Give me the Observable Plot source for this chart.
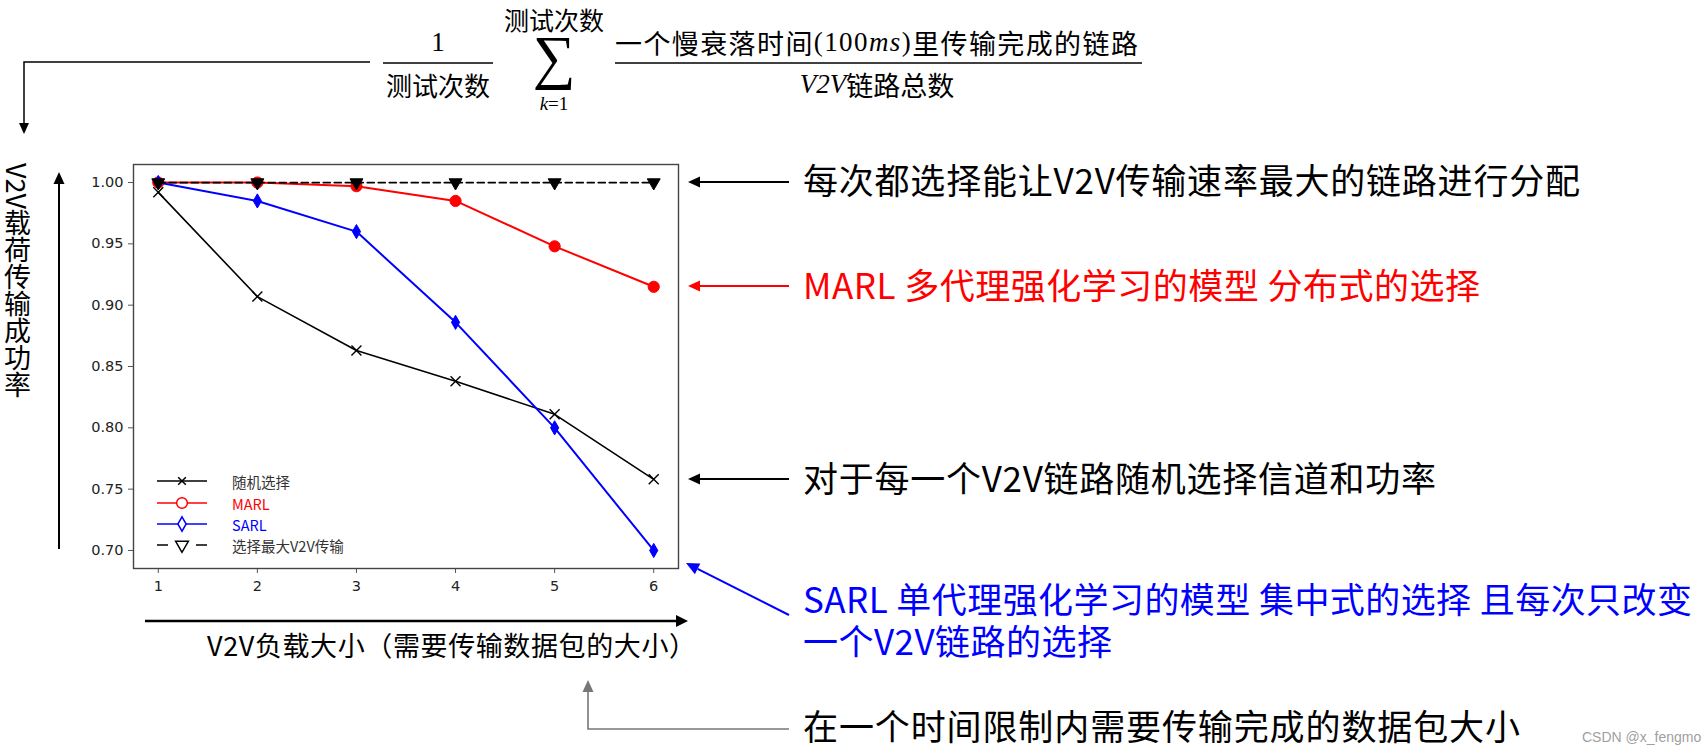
<!DOCTYPE html>
<html>
<head>
<meta charset="utf-8">
<script src="https://cdn.jsdelivr.net/npm/d3@7"></script>
<script src="https://cdn.jsdelivr.net/npm/@observablehq/plot@0.6"></script>
<style>
  html, body { margin: 0; padding: 0; background: #fff; }
  #wrap { position: relative; width: 1706px; height: 753px; }
  #chart svg { display: block; }
  #ylabel {
    position: absolute; left: 4px; top: 163px;
    writing-mode: vertical-rl; text-orientation: mixed;
    font-family: 'Noto Sans CJK SC', 'Noto Sans', sans-serif;
    font-size: 27px; line-height: 27px; color: #000; white-space: nowrap;
  }
</style>
</head>
<body>
<div id="wrap">
  <div id="chart"></div>
  <div id="ylabel"></div>
</div>
<script>
// ---------- data ----------
const loads = [1, 2, 3, 4, 5, 6];
const randomSel = [0.992, 0.907, 0.863, 0.838, 0.811, 0.758];
const marl      = [1.000, 1.000, 0.997, 0.985, 0.948, 0.915];
const sarl      = [1.000, 0.985, 0.960, 0.886, 0.800, 0.700];
const maxV2V    = [1.000, 1.000, 1.000, 1.000, 1.000, 1.000];
const seriesNames = ["随机选择", "MARL", "SARL", "选择最大V2V传输"];
const yTicks = [0.70, 0.75, 0.80, 0.85, 0.90, 0.95, 1.00];
const xTicks = [1, 2, 3, 4, 5, 6];
const yLabel = "V2V载荷传输成功率";
const xLabel = "V2V负载大小（需要传输数据包的大小）";

const toRows = (vals, name) => loads.map((x, i) => ({series: name, x, y: vals[i]}));
const rRandom = toRows(randomSel, seriesNames[0]);
const rMarl   = toRows(marl, seriesNames[1]);
const rSarl   = toRows(sarl, seriesNames[2]);
const rMax    = toRows(maxV2V, seriesNames[3]);

const W = 1706, H = 753;
const fL = 133, fR = 678, fT = 164, fB = 568;

const CJK = "'Noto Sans CJK SC', 'Noto Sans', sans-serif";
const SERIF = "'Liberation Serif', 'DejaVu Serif', serif";

const chart = Plot.plot({
  width: W, height: H,
  marginLeft: fL, marginRight: W - fR, marginTop: fT, marginBottom: H - fB,
  style: {fontFamily: "'DejaVu Sans', sans-serif", fontSize: "14.5px", color: "#222", background: "#fff"},
  x: {domain: [0.75, 6.25]},
  y: {domain: [0.6853, 1.0147]},
  marks: [
    Plot.axisX({ticks: xTicks, tickFormat: d => String(d), tickSize: 5, tickPadding: 7, stroke: "#555", fill: "#222", label: null}),
    Plot.axisY({ticks: yTicks, tickFormat: d3.format(".2f"), tickSize: 5, tickPadding: 5, stroke: "#555", fill: "#222", label: null}),
    Plot.line(rRandom, {x: "x", y: "y", stroke: "#000", strokeWidth: 1.6}),
    Plot.dot(rRandom, {x: "x", y: "y", symbol: "times", r: 4.6, stroke: "#000", strokeWidth: 1.4}),
    Plot.line(rMarl, {x: "x", y: "y", stroke: "#ff0000", strokeWidth: 2}),
    Plot.dot(rMarl, {x: "x", y: "y", symbol: "circle", r: 5.6, fill: "#ff0000", stroke: "#ff0000", strokeWidth: 1}),
    Plot.line(rSarl, {x: "x", y: "y", stroke: "#0000ff", strokeWidth: 2}),
    Plot.dot(rSarl, {x: "x", y: "y", symbol: "diamond", r: 4.3, fill: "#0000ff", stroke: "#0000ff", strokeWidth: 1}),
    Plot.line(rMax, {x: "x", y: "y", stroke: "#000", strokeWidth: 1.7, strokeDasharray: "7,4"}),
    Plot.dot(rMax, {x: "x", y: "y", symbol: "triangle", rotate: 180, r: 4.8, fill: "#000", stroke: "#000", strokeWidth: 1}),
    Plot.frame({stroke: "#444", strokeWidth: 1.4})
  ]
});
document.getElementById("chart").appendChild(chart);
document.getElementById("ylabel").textContent = yLabel;

// ---------- annotations ----------
const svg = d3.select(chart);
const g = svg.append("g").attr("class", "annotations").attr("text-anchor", "start");

function arrow(pts, color, w, head = 12, half = 5.5) {
  const [x2, y2] = pts[pts.length - 1], [x1, y1] = pts[pts.length - 2];
  const ang = Math.atan2(y2 - y1, x2 - x1);
  const bx = x2 - head * Math.cos(ang), by = y2 - head * Math.sin(ang);
  const linePts = pts.slice(0, -1).concat([[bx, by]]);
  g.append("polyline").attr("points", linePts.map(p => p.join(",")).join(" "))
    .attr("fill", "none").attr("stroke", color).attr("stroke-width", w);
  const px = -Math.sin(ang) * half, py = Math.cos(ang) * half;
  g.append("polygon").attr("points", `${x2},${y2} ${bx + px},${by + py} ${bx - px},${by - py}`).attr("fill", color);
}
function txt(x, y, s, opts = {}) {
  const t = g.append("text").attr("x", x).attr("y", y)
    .attr("dominant-baseline", "central")
    .attr("font-family", opts.family || CJK)
    .attr("font-size", opts.size || 26)
    .attr("fill", opts.fill || "#000")
    .attr("text-anchor", opts.anchor || "start")
    .text(s);
  if (opts.len) t.attr("textLength", opts.len).attr("lengthAdjust", "spacing");
  if (opts.italic) t.attr("font-style", "italic");
  return t;
}

// legend
const legendY = [481, 503, 524, 545];
const legendColors = ["#000", "#ff0000", "#0000ff", "#000"];
const legendText = ["#333", "#ff0000", "#0000ff", "#333"];
const legendSym = [d3.symbolTimes, d3.symbolCircle, d3.symbolDiamond, d3.symbolTriangle];
const legendSize = [40, 90, 60, 70];
seriesNames.forEach((name, i) => {
  const y = legendY[i];
  const ln = g.append("line").attr("x1", 157).attr("x2", 207).attr("y1", y).attr("y2", y)
    .attr("stroke", legendColors[i]).attr("stroke-width", 1.6);
  if (i === 3) ln.attr("stroke-dasharray", "11,28");
  g.append("path").attr("d", d3.symbol(legendSym[i], legendSize[i])())
    .attr("transform", `translate(182,${y})` + (i === 3 ? " rotate(180)" : ""))
    .attr("fill", "#fff").attr("stroke", legendColors[i]).attr("stroke-width", 1.5);
  txt(232, y, name, {size: 14.5, fill: legendText[i]});
});

// formula
g.append("line").attr("x1", 383).attr("x2", 493).attr("y1", 63).attr("y2", 63).attr("stroke", "#000").attr("stroke-width", 1.5);
txt(438, 42, "1", {family: SERIF, size: 27, anchor: "middle"});
txt(438, 84, "测试次数", {size: 26, anchor: "middle"});
txt(554, 19, "测试次数", {size: 25, anchor: "middle"});
g.append("text").attr("x", 554).attr("y", 77).attr("text-anchor", "middle")
  .attr("font-family", SERIF).attr("font-size", 60).attr("fill", "#000").text("∑");
const k = g.append("text").attr("x", 554).attr("y", 103).attr("dominant-baseline", "central")
  .attr("text-anchor", "middle").attr("font-family", SERIF).attr("font-size", 19).attr("fill", "#000");
k.append("tspan").attr("font-style", "italic").text("k");
k.append("tspan").text("=1");

const num = g.append("text").attr("x", 615).attr("y", 42).attr("dominant-baseline", "central")
  .attr("text-anchor", "start")
  .attr("font-size", 27).attr("fill", "#000").attr("letter-spacing", "1.4px");
num.append("tspan").attr("font-family", CJK).text("一个慢衰落时间");
num.append("tspan").attr("font-family", SERIF).text("(100");
num.append("tspan").attr("font-family", SERIF).attr("font-style", "italic").text("ms");
num.append("tspan").attr("font-family", SERIF).text(")");
num.append("tspan").attr("font-family", CJK).text("里传输完成的链路");
g.append("line").attr("x1", 615).attr("x2", 1142).attr("y1", 63).attr("y2", 63).attr("stroke", "#000").attr("stroke-width", 1.5);
const den = g.append("text").attr("x", 877).attr("y", 84).attr("dominant-baseline", "central")
  .attr("text-anchor", "middle").attr("font-size", 27).attr("fill", "#000");
den.append("tspan").attr("font-family", SERIF).attr("font-style", "italic").text("V2V");
den.append("tspan").attr("font-family", CJK).text("链路总数");

// left connector and axes arrows
arrow([[370, 62], [24, 62], [24, 134]], "#000", 1.5, 11, 5);
arrow([[59, 549], [59, 172]], "#000", 2, 12, 5.5);
arrow([[145, 621], [688, 621]], "#000", 2.4, 12, 6);

// x label
txt(207, 644, xLabel, {size: 27, len: 489});

// right annotations
arrow([[789, 182], [688, 182]], "#000", 2, 12, 5.5);
txt(803, 178, "每次都选择能让V2V传输速率最大的链路进行分配", {size: 35, len: 777});
arrow([[789, 286], [688, 286]], "#ff0000", 2, 12, 5.5);
txt(803, 283, "MARL 多代理强化学习的模型 分布式的选择", {size: 35, len: 677, fill: "#ff0000"});
arrow([[789, 479], [688, 479]], "#000", 2, 12, 5.5);
txt(803, 476, "对于每一个V2V链路随机选择信道和功率", {size: 35, len: 633});
arrow([[789, 615], [686, 563]], "#0000ff", 2, 13, 6);
txt(803, 597, "SARL 单代理强化学习的模型 集中式的选择 且每次只改变", {size: 35, len: 889, fill: "#0000ff"});
txt(803, 639, "一个V2V链路的选择", {size: 35, len: 309, fill: "#0000ff"});
arrow([[789, 729], [588, 729], [588, 680]], "#777", 1.6, 12, 5.5);
txt(803, 724, "在一个时间限制内需要传输完成的数据包大小", {size: 35, len: 717});

// watermark
txt(1582, 737, "CSDN @x_fengmo", {family: "'Liberation Sans', sans-serif", size: 14, fill: "#a0a0a0"});
</script>
</body>
</html>
